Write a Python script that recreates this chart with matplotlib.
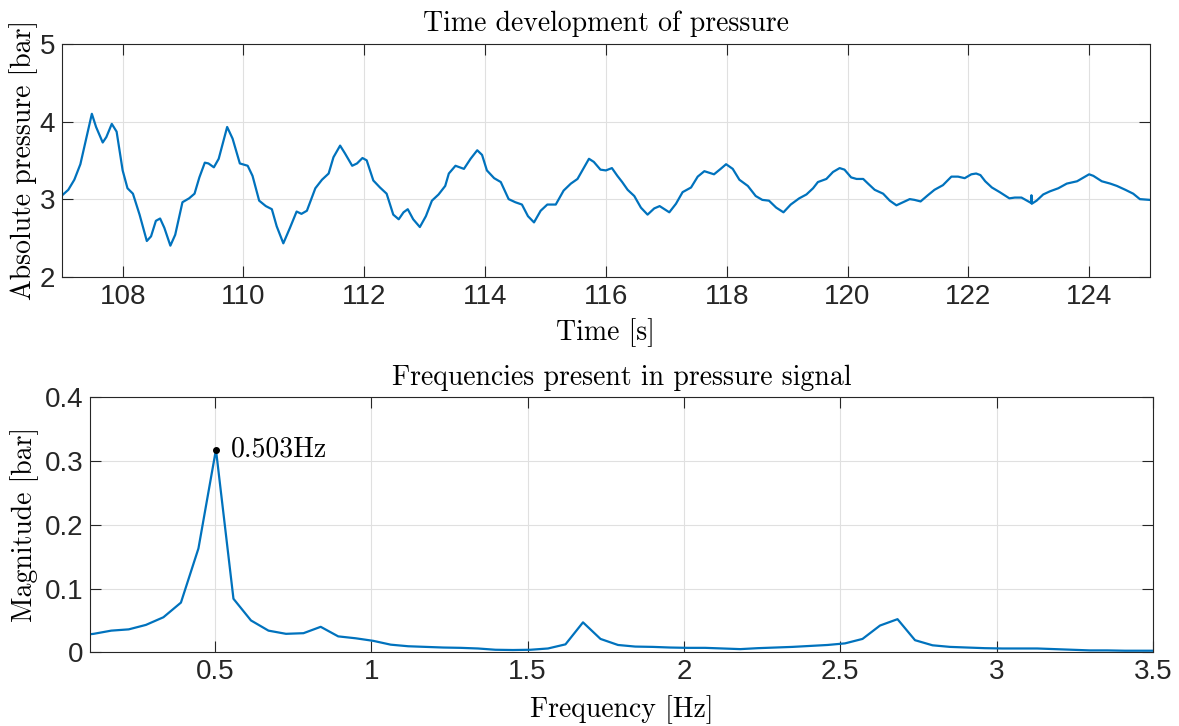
import matplotlib
matplotlib.use("Agg")
import matplotlib.pyplot as plt

# pressure time signal
t = [107.0, 107.1, 107.2, 107.3, 107.39, 107.49, 107.56, 107.67, 107.73, 107.82,
     107.90, 108.0, 108.08, 108.17, 108.28, 108.40, 108.47, 108.55, 108.62, 108.69,
     108.79, 108.87, 108.99, 109.10, 109.19, 109.27, 109.36, 109.42, 109.51, 109.59,
     109.73, 109.82, 109.94, 110.07, 110.15, 110.26, 110.37, 110.47, 110.55, 110.66,
     110.77, 110.88, 110.96, 111.05, 111.19, 111.30, 111.41, 111.49, 111.60, 111.68,
     111.80, 111.88, 111.97, 112.04, 112.15, 112.26, 112.37, 112.48, 112.57, 112.65,
     112.72, 112.81, 112.92, 113.02, 113.12, 113.23, 113.34, 113.40, 113.51, 113.65,
     113.76, 113.87, 113.95, 114.03, 114.15, 114.26, 114.39, 114.50, 114.61, 114.71,
     114.81, 114.92, 115.03, 115.17, 115.30, 115.42, 115.53, 115.61, 115.72, 115.80,
     115.91, 116.0, 116.10, 116.19, 116.27, 116.36, 116.47, 116.58, 116.69, 116.80,
     116.89, 117.05, 117.16, 117.27, 117.41, 117.52, 117.63, 117.79, 117.90, 117.99,
     118.10, 118.21, 118.35, 118.48, 118.59, 118.70, 118.82, 118.94, 119.06, 119.20,
     119.32, 119.43, 119.51, 119.65, 119.76, 119.87, 119.95, 120.06, 120.15, 120.26,
     120.34, 120.45, 120.59, 120.70, 120.81, 120.92, 121.03, 121.11, 121.21, 121.33,
     121.44, 121.58, 121.72, 121.83, 121.94, 122.05, 122.13, 122.20, 122.28, 122.39,
     122.52, 122.68, 122.77, 122.88, 122.97, 123.04, 123.045, 123.05, 123.13, 123.24,
     123.35, 123.49, 123.63, 123.80, 123.91, 124.0, 124.07, 124.21, 124.35, 124.46,
     124.60, 124.73, 124.84, 125.0]
p = [3.05, 3.12, 3.25, 3.45, 3.76, 4.10, 3.93, 3.73, 3.80, 3.97,
     3.87, 3.37, 3.14, 3.07, 2.80, 2.46, 2.52, 2.72, 2.75, 2.63,
     2.40, 2.54, 2.96, 3.01, 3.07, 3.28, 3.47, 3.46, 3.41, 3.52,
     3.93, 3.78, 3.46, 3.43, 3.30, 2.98, 2.91, 2.87, 2.65, 2.43,
     2.63, 2.84, 2.81, 2.85, 3.14, 3.25, 3.33, 3.54, 3.69, 3.59,
     3.43, 3.46, 3.53, 3.50, 3.24, 3.15, 3.07, 2.80, 2.74, 2.83,
     2.87, 2.74, 2.64, 2.78, 2.98, 3.06, 3.17, 3.33, 3.43, 3.39,
     3.52, 3.63, 3.57, 3.37, 3.27, 3.22, 3.00, 2.96, 2.93, 2.78,
     2.70, 2.85, 2.93, 2.93, 3.11, 3.20, 3.26, 3.37, 3.52, 3.48,
     3.38, 3.37, 3.40, 3.30, 3.22, 3.12, 3.04, 2.89, 2.80, 2.88,
     2.91, 2.83, 2.94, 3.09, 3.15, 3.29, 3.36, 3.32, 3.39, 3.45,
     3.39, 3.25, 3.17, 3.04, 2.99, 2.98, 2.89, 2.83, 2.93, 3.01,
     3.06, 3.14, 3.22, 3.26, 3.35, 3.40, 3.38, 3.28, 3.26, 3.26,
     3.20, 3.12, 3.07, 2.98, 2.92, 2.96, 3.00, 2.99, 2.97, 3.05,
     3.12, 3.18, 3.29, 3.29, 3.27, 3.32, 3.33, 3.31, 3.23, 3.15,
     3.09, 3.01, 3.02, 3.02, 2.98, 2.95, 3.05, 2.94, 2.98, 3.06,
     3.10, 3.14, 3.20, 3.23, 3.28, 3.32, 3.30, 3.23, 3.20, 3.17,
     3.12, 3.07, 3.00, 2.99]

# single-sided spectrum
freq = [0.056, 0.112, 0.168, 0.224, 0.279, 0.335, 0.391, 0.447, 0.503, 0.559,
        0.615, 0.671, 0.727, 0.783, 0.838, 0.894, 0.950, 1.006, 1.062, 1.118,
        1.174, 1.230, 1.286, 1.341, 1.397, 1.453, 1.509, 1.565, 1.621, 1.677,
        1.733, 1.789, 1.844, 1.900, 1.956, 2.012, 2.068, 2.124, 2.180, 2.236,
        2.292, 2.347, 2.403, 2.459, 2.515, 2.571, 2.627, 2.683, 2.739, 2.795,
        2.851, 2.906, 2.962, 3.018, 3.074, 3.130, 3.186, 3.242, 3.298, 3.354,
        3.410, 3.466, 3.521]
mag = [0.026, 0.029, 0.034, 0.036, 0.043, 0.055, 0.078, 0.163, 0.318, 0.084,
       0.050, 0.034, 0.029, 0.030, 0.040, 0.025, 0.022, 0.018, 0.012, 0.0095,
       0.0085, 0.0075, 0.007, 0.006, 0.004, 0.0036, 0.004, 0.006, 0.0125, 0.047,
       0.021, 0.0115, 0.009, 0.0085, 0.0075, 0.007, 0.007, 0.006, 0.005, 0.0065,
       0.0075, 0.0085, 0.010, 0.0115, 0.014, 0.021, 0.042, 0.052, 0.019, 0.011,
       0.0085, 0.0075, 0.0065, 0.006, 0.006, 0.006, 0.005, 0.004, 0.003, 0.003,
       0.0025, 0.0025, 0.0025]
peak_f = 0.503
peak_m = 0.318

top_xticks = [108, 110, 112, 114, 116, 118, 120, 122, 124]
top_yticks = [2, 3, 4, 5]
bot_xticks = [0.5, 1, 1.5, 2, 2.5, 3, 3.5]
bot_xlabels = ['0.5', '1', '1.5', '2', '2.5', '3', '3.5']
bot_yticks = [0, 0.1, 0.2, 0.3, 0.4]
bot_ylabels = ['0', '0.1', '0.2', '0.3', '0.4']

blue = '#0072BD'
dark = '#262626'
serif = 'cmr10'
fs = 20

plt.rcParams['font.family'] = ['Liberation Sans', 'DejaVu Sans']

fig = plt.figure(figsize=(11.79, 7.26), dpi=100)
ax1 = fig.add_axes([0.0528, 0.6189, 0.9222, 0.3205])
ax2 = fig.add_axes([0.0763, 0.1015, 0.9016, 0.3512])


def style(ax):
    ax.tick_params(direction='in', length=8, width=0.8, top=True, right=True,
                   labelsize=20, colors=dark, pad=5)
    for s in ax.spines.values():
        s.set_color(dark)
        s.set_linewidth(0.8)
    ax.grid(True, color='#e0e0e0', linewidth=0.8)
    ax.set_axisbelow(True)


ax1.plot(t, p, color=blue, linewidth=1.6)
ax1.set_xlim(107, 125)
ax1.set_ylim(2, 5)
ax1.set_xticks(top_xticks)
ax1.set_yticks(top_yticks)
style(ax1)
ax1.set_title('Time development of pressure', fontfamily=serif, fontsize=fs, pad=9)
ax1.set_xlabel('Time [s]', fontfamily=serif, fontsize=fs, labelpad=6)
ax1.set_ylabel('Absolute pressure [bar]', fontfamily=serif, fontsize=fs, labelpad=1)

ax2.plot(freq, mag, color=blue, linewidth=1.6)
ax2.plot([peak_f], [peak_m], 'o', color='black', markersize=4)
ax2.annotate('%.3fHz' % peak_f, (peak_f, peak_m), xytext=(11, 0),
             textcoords='offset points', va='center', ha='left',
             fontfamily=serif, fontsize=fs)
ax2.set_xlim(0.1, 3.5)
ax2.set_ylim(0, 0.4)
ax2.set_xticks(bot_xticks)
ax2.set_xticklabels(bot_xlabels)
ax2.set_yticks(bot_yticks)
ax2.set_yticklabels(bot_ylabels)
style(ax2)
ax2.set_title('Frequencies present in pressure signal', fontfamily=serif, fontsize=fs, pad=9)
ax2.set_xlabel('Frequency [Hz]', fontfamily=serif, fontsize=fs, labelpad=7)
ax2.set_ylabel('Magnitude [bar]', fontfamily=serif, fontsize=fs, labelpad=4)

fig.savefig('out.png', dpi=100)
